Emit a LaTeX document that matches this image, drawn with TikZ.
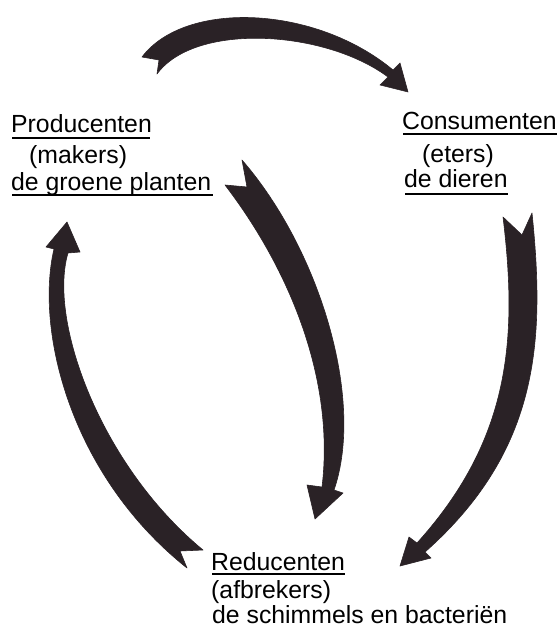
\documentclass[tikz,border=0pt]{standalone}
\usepackage{fontspec}
\setmainfont{Liberation Sans}
\definecolor{ink}{RGB}{42,34,38}
\tikzset{
  lbl/.style={anchor=base west, inner sep=0pt, font=\fontsize{24.8}{29}\selectfont, text=black},
  uline/.style={line width=1.8pt, draw=black},
  blockarrow/.style={fill=ink, draw=ink, line width=0.6pt, line join=round}
}
\begin{document}
\begin{tikzpicture}[x=1pt, y=-1pt]
\useasboundingbox (0,0) rectangle (559,634);

% ---- labels ----
\node[lbl] (prod)  at (11,132) {Producenten};
\node[lbl] (mak)   at (29,163) {(makers)};
\node[lbl] (plant) at (11,190) {de groene planten};

\node[lbl] (cons)  at (402,129) {Consumenten};
\node[lbl] (eter)  at (422,162) {(eters)};
\node[lbl] (dier)  at (404,187) {de dieren};

\node[lbl] (red)   at (211,570) {Reducenten};
\node[lbl] (afbr)  at (211,598) {(afbrekers)};
\node[lbl] (schim) at (212,623) {de schimmels en bacteriën};

% underlines
\draw[uline] (12,138) -- (150,138);
\draw[uline] (12,195) -- (213,195);
\draw[uline] (403,134) -- (557,134);
\draw[uline] (405,194) -- (508,194);
\draw[uline] (212,574) -- (345,574);

% ---- arrow 1: producenten -> consumenten (top) ----
\fill[blockarrow] (142,57) .. controls (185,0) and (315,5) .. (393,70)
  -- (400,63) -- (408,92) -- (380,85) -- (388,77)
  .. controls (325,30) and (195,22) .. (157,74)
  -- (159,60) -- cycle;

% ---- arrow 2: reducenten -> producenten (left) ----
\fill[blockarrow] (187,568) .. controls (70,475) and (35,330) .. (54,249)
  -- (46,247) -- (67,222) -- (80,252) -- (68,253)
  .. controls (48,320) and (100,465) .. (203,550)
  -- (180,551) -- cycle;

% ---- arrow 3: producenten -> reducenten (middle) ----
\fill[blockarrow] (242,160) .. controls (320,250) and (365,400) .. (334,490)
  -- (343,493) -- (315,519) -- (307,485) -- (322,487)
  .. controls (335,380) and (290,270) .. (225,185)
  -- (247,187) -- cycle;

% ---- arrow 4: consumenten -> reducenten (right) ----
\fill[blockarrow] (532,213) .. controls (545,340) and (540,450) .. (425,552)
  -- (431,558) -- (400,566) -- (409,537) -- (417,543)
  .. controls (510,440) and (518,340) .. (503,217)
  -- (522,235) -- cycle;
\end{tikzpicture}
\end{document}
